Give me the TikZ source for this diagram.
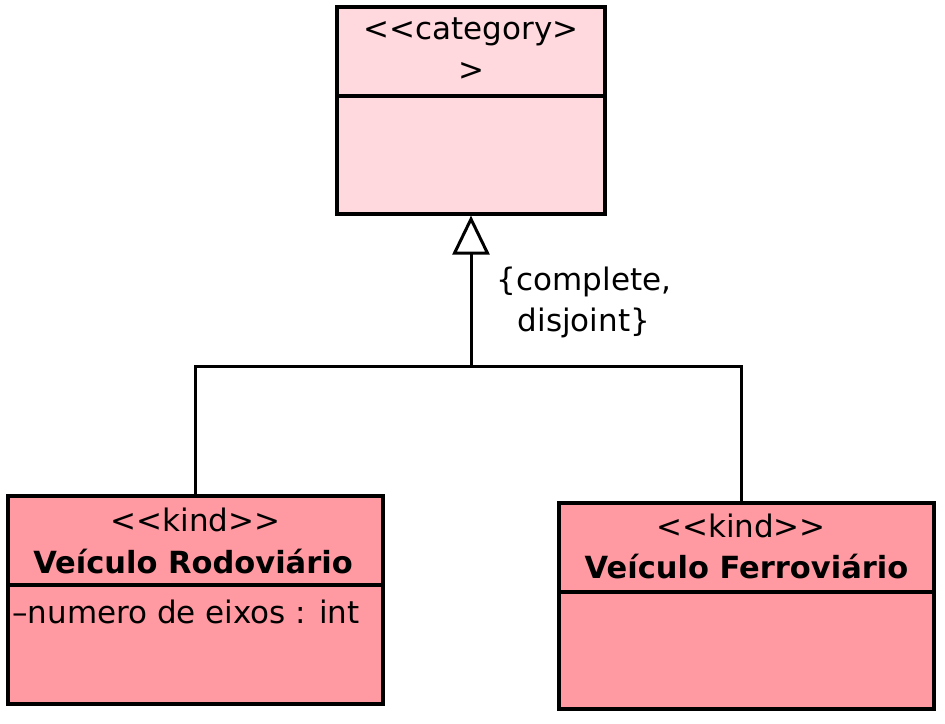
\documentclass[tikz,border=0pt]{standalone}
\usepackage{fontspec}
\setmainfont{DejaVu Sans}[Ligatures=TeXOff]
\usetikzlibrary{arrows.meta}
\definecolor{catpink}{RGB}{255,217,221}
\definecolor{kindpink}{RGB}{255,153,162}

\begin{document}
\begin{tikzpicture}[x=1pt,y=-1pt,
  classbox/.style={draw,line width=3.2pt,rectangle,inner sep=0pt},
  divider/.style={line width=3.2pt},
  txt/.style={font=\fontsize{31}{41}\selectfont,inner sep=0pt},
  bold/.style={font=\fontsize{30.5}{41}\selectfont\bfseries,inner sep=0pt},
  gen/.style={line width=3pt}]
  \useasboundingbox (0,0) rectangle (945,723);

  % Category
  \node[classbox,fill=catpink,minimum width=268pt,minimum height=207pt] (cat) at (471,110.5) {};
  \draw[divider] (cat.west |- 0,96) -- (cat.east |- 0,96);
  \node[txt,align=center] (catname) at (471,49) {<<category>\\>};

  % Kind: road
  \node[classbox,fill=kindpink,minimum width=375pt,minimum height=208pt] (road) at (195.5,600) {};
  \draw[divider] (road.west |- 0,585) -- (road.east |- 0,585);
  \node[txt] (roadst) at (195.5,520) {<<kind>>};
  \node[bold] (roadname) at (193,562) {Veículo Rodoviário};
  \node[txt,anchor=west] (roadattr) at (12,612) {–numero de eixos : int};

  % Kind: rail
  \node[classbox,fill=kindpink,minimum width=375pt,minimum height=206pt] (rail) at (746.5,606) {};
  \draw[divider] (rail.west |- 0,592) -- (rail.east |- 0,592);
  \node[txt] (railst) at (741,526) {<<kind>>};
  \node[bold] (railname) at (746.5,567) {Veículo Ferroviário};

  % Generalization set
  \coordinate (fork) at (471,366);
  \draw[gen] (road.north) |- (fork) -| ([xshift=-5.5pt]rail.north);
  \draw[gen,-{Triangle[open,length=39pt,width=37pt]}] (fork) -- (cat.south);
  \node[txt,align=center] (gset) at (584,302) {\{complete,\\disjoint\}};
\end{tikzpicture}
\end{document}
